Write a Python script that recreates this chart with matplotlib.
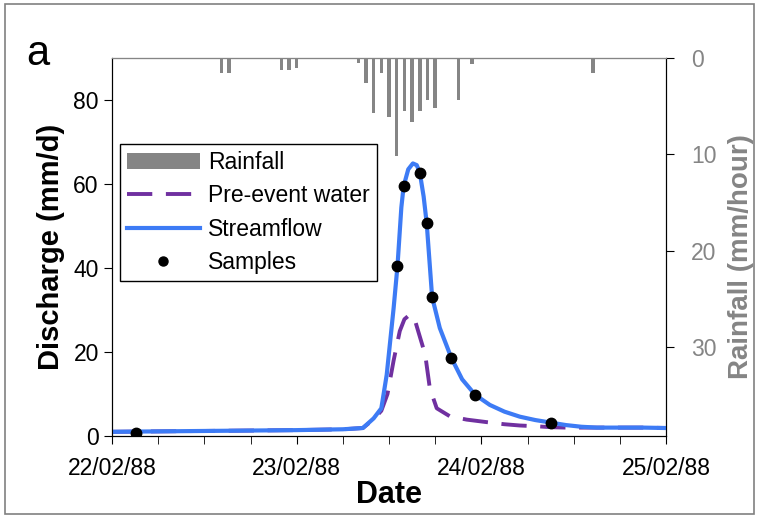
import matplotlib
matplotlib.use("Agg")
import matplotlib.pyplot as plt
from matplotlib.lines import Line2D
from matplotlib.patches import Patch, Rectangle
from matplotlib.ticker import MultipleLocator

plt.rcParams["font.family"] = ["Liberation Sans", "DejaVu Sans"]

# time axis in hours since 22/02/88 00:00
date_labels = ["22/02/88", "23/02/88", "24/02/88", "25/02/88"]

# streamflow (mm/d)
flow_t = [0, 6, 12, 18, 24, 30, 32.6, 34.0, 35.0, 35.7, 36.6, 37.1, 37.6, 37.9, 38.5,
          39.1, 39.6, 40.0, 40.5, 40.9, 41.6, 42.6, 44.1, 45.5, 47.2, 49.1, 51, 53,
          55, 57, 59, 61, 63, 66, 69, 72]
flow_q = [1.0, 1.1, 1.2, 1.3, 1.4, 1.6, 1.9, 4.2, 6.6, 14.6, 30.5, 40.5, 54.4, 59.5, 63.5,
          64.9, 64.5, 62.7, 57.0, 50.6, 33.1, 25.7, 18.6, 13.5, 9.8, 7.4, 5.8, 4.6,
          3.8, 3.2, 2.6, 2.2, 2.0, 2.0, 2.0, 1.9]

# pre-event water (mm/d)
pre_t = [0, 6, 12, 18, 24, 30, 32.6, 34.0, 35.0, 35.8, 36.6, 37.4, 38.0, 38.7, 39.3,
         39.8, 40.7, 41.3, 42.2, 43.9, 46.1, 48.7, 51, 53, 55.3, 57, 59, 61, 63, 66, 69, 72]
pre_q = [1.0, 1.1, 1.2, 1.3, 1.4, 1.6, 1.9, 4.0, 6.0, 10.0, 18.0, 25.0, 27.8, 28.9, 28.0,
         24.9, 19.4, 11.4, 6.6, 4.7, 3.9, 3.3, 2.8, 2.5, 2.3, 2.1, 2.0, 2.0, 2.0, 2.0, 2.0, 1.9]

# samples (mm/d)
samp_t = [3.1, 37.1, 37.9, 40.0, 40.9, 41.6, 44.1, 47.2, 57.0]
samp_q = [0.8, 40.5, 59.5, 62.7, 50.6, 33.1, 18.6, 9.8, 3.2]

# hourly rainfall (mm/hour)
rain_t = [14.2, 15.2, 22, 23, 24, 32, 33, 34, 35, 36, 37, 38, 39, 40, 41, 42, 45, 46.8, 62.5]
rain_r = [1.6, 1.6, 1.2, 1.2, 1.0, 0.55, 2.6, 5.7, 1.6, 6.1, 10.2, 5.5, 6.6, 5.5, 4.4,
          5.2, 4.4, 0.6, 1.6]

blue = "#3D7BF5"
purple = "#7030A0"
grey = "#858585"

fig = plt.figure(figsize=(7.59, 5.18), dpi=100)
ax = fig.add_axes([0.1476, 0.1583, 0.7299, 0.7297])
ax2 = ax.twinx()

ax.plot(pre_t, pre_q, color=purple, lw=2.8, dashes=(6.5, 3.5), zorder=3)
ax.plot(flow_t, flow_q, color=blue, lw=3, zorder=4)
ax.plot(samp_t, samp_q, "o", color="black", ms=7.5, zorder=5)

ax2.bar(rain_t, rain_r, width=0.45, color=grey, align="center")

ax.set_xlim(0, 72)
ax.set_ylim(0, 90)
ax2.set_ylim(39.2, 0)

ax.xaxis.set_minor_locator(MultipleLocator(6))
ax.set_xticks([0, 24, 48, 72])
ax.set_xticklabels(date_labels)
ax.set_yticks([0, 20, 40, 60, 80])
ax2.set_yticks([0, 10, 20, 30])

ax.tick_params(axis="both", which="major", labelsize=16.5, length=6, direction="out")
ax.tick_params(axis="x", which="major", pad=9)
ax.tick_params(axis="x", which="minor", length=6, direction="out")
ax2.tick_params(axis="y", labelsize=16.5, length=6, direction="out", labelcolor=grey, pad=12)

ax.set_xlabel("Date", fontsize=22, fontweight="bold", labelpad=0)
ax.set_ylabel("Discharge (mm/d)", fontsize=21, fontweight="bold", labelpad=6)
# right axis label placed by hand so it stays inside the frame
fig.text(0.976, 0.505, "Rainfall (mm/hour)", fontsize=20, fontweight="bold", color=grey,
         rotation=90, ha="center", va="center")

ax2.spines["top"].set_color(grey)

handles = [
    Patch(facecolor=grey, edgecolor="none"),
    Line2D([], [], color=purple, lw=2.8, dashes=(6.5, 3.5)),
    Line2D([], [], color=blue, lw=3),
    Line2D([], [], ls="none", marker="o", color="black", ms=6.5),
]
labels = ["Rainfall", "Pre-event water", "Streamflow", "Samples"]
leg = ax2.legend(handles, labels, loc="upper left", bbox_to_anchor=(0.014, 0.772),
                 fontsize=16.5, frameon=True, fancybox=False, edgecolor="black",
                 framealpha=1, borderaxespad=0, handlelength=3.2, handletextpad=0.35,
                 labelspacing=0.45, borderpad=0.3)
leg.get_frame().set_linewidth(1.0)

fig.text(0.034, 0.875, "a", fontsize=30)
fig.patches.append(Rectangle((0.006, 0.008), 0.988, 0.984, transform=fig.transFigure,
                             fill=False, edgecolor="#808080", lw=1.2))

fig.savefig("out.png", dpi=100)
